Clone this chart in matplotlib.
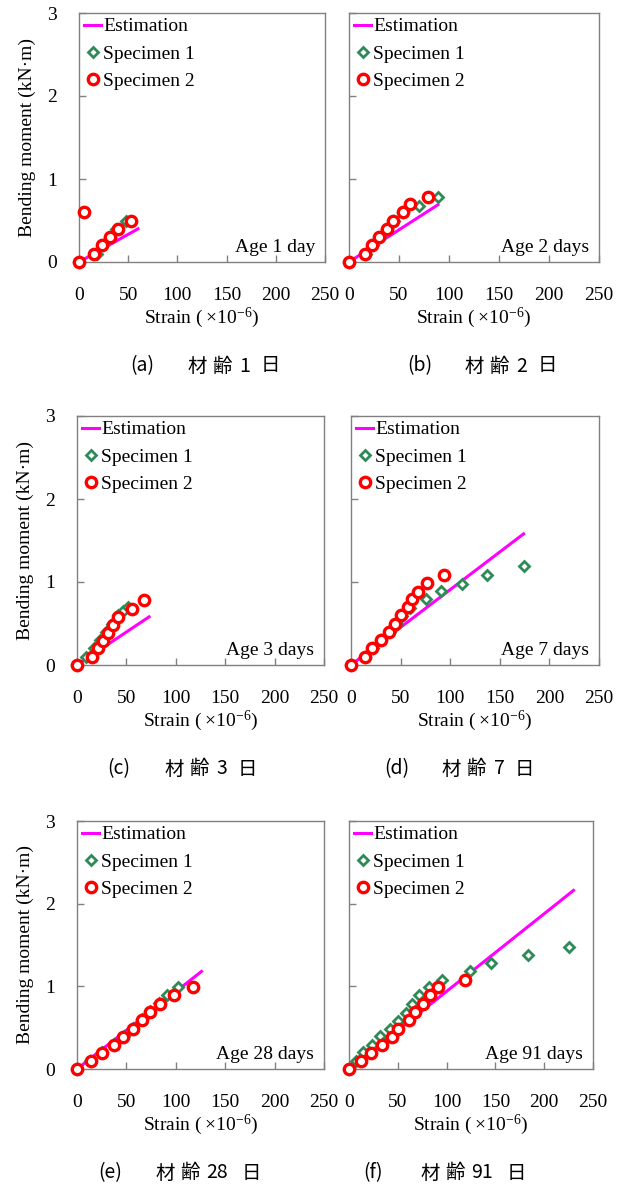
import matplotlib
matplotlib.use("Agg")
import matplotlib.pyplot as plt

plt.rcParams['font.family'] = ['Liberation Serif', 'DejaVu Sans']
plt.rcParams['mathtext.fontset'] = 'custom'
plt.rcParams['mathtext.rm'] = 'Liberation Serif'
plt.rcParams['mathtext.it'] = 'Liberation Serif:italic'

# data (strain x1e-6, bending moment kN*m)
est_a_x = [0, 60]
est_a_y = [0, 0.40]
s1_a_x = [0, 18, 24, 31, 38, 48]
s1_a_y = [0, 0.1, 0.2, 0.3, 0.4, 0.5]
s2_a_x = [0, 5, 15, 23, 32, 40, 53]
s2_a_y = [0, 0.6, 0.1, 0.2, 0.3, 0.4, 0.5]

est_b_x = [0, 89]
est_b_y = [0, 0.69]
s1_b_x = [0, 17, 24, 31, 38, 45, 54, 70, 89]
s1_b_y = [0, 0.1, 0.2, 0.3, 0.4, 0.5, 0.6, 0.68, 0.78]
s2_b_x = [0, 16, 23, 30, 38, 44, 54, 61, 79]
s2_b_y = [0, 0.1, 0.2, 0.3, 0.4, 0.5, 0.6, 0.7, 0.78]

est_c_x = [0, 73]
est_c_y = [0, 0.58]
s1_c_x = [0, 9, 17, 23, 29, 35, 41, 47, 52]
s1_c_y = [0, 0.1, 0.2, 0.3, 0.4, 0.5, 0.6, 0.65, 0.7]
s2_c_x = [0, 15, 21, 26, 31, 36, 41, 56, 68]
s2_c_y = [0, 0.1, 0.2, 0.29, 0.39, 0.48, 0.58, 0.68, 0.78]

est_d_x = [0, 174]
est_d_y = [0, 1.58]
s1_d_x = [0, 14, 22, 30, 39, 46, 51, 59, 76, 91, 112, 137, 174]
s1_d_y = [0, 0.1, 0.2, 0.3, 0.4, 0.49, 0.59, 0.69, 0.79, 0.89, 0.98, 1.08, 1.19]
s2_d_x = [0, 14, 21, 30, 38, 44, 50, 57, 61, 68, 77, 94]
s2_d_y = [0, 0.1, 0.2, 0.3, 0.4, 0.5, 0.6, 0.7, 0.79, 0.88, 0.99, 1.08]

est_e_x = [0, 126]
est_e_y = [0, 1.18]
s1_e_x = [0, 13, 25, 37, 48, 57, 66, 74, 83, 91, 102]
s1_e_y = [0, 0.1, 0.2, 0.3, 0.4, 0.5, 0.6, 0.7, 0.8, 0.9, 0.99]
s2_e_x = [0, 14, 25, 37, 47, 57, 66, 74, 84, 98, 117]
s2_e_y = [0, 0.1, 0.19, 0.29, 0.39, 0.48, 0.59, 0.69, 0.79, 0.89, 0.99]

est_f_x = [0, 230]
est_f_y = [0, 2.16]
s1_f_x = [0, 7, 14, 24, 32, 42, 50, 58, 65, 72, 82, 95, 124, 146, 183, 225]
s1_f_y = [0, 0.1, 0.2, 0.29, 0.4, 0.48, 0.58, 0.68, 0.79, 0.89, 0.99, 1.08, 1.18, 1.28, 1.38, 1.48]
s2_f_x = [0, 12, 23, 34, 44, 50, 61, 68, 76, 83, 91, 119]
s2_f_y = [0, 0.1, 0.19, 0.29, 0.39, 0.48, 0.59, 0.69, 0.79, 0.89, 0.99, 1.08]

ages = ['Age 1 day', 'Age 2 days', 'Age 3 days', 'Age 7 days', 'Age 28 days', 'Age 91 days']
cap_letters = ['(a)', '(b)', '(c)', '(d)', '(e)', '(f)']
cap_days = ['1', '2', '3', '7', '28', '91']

panels = [
    (est_a_x, est_a_y, s1_a_x, s1_a_y, s2_a_x, s2_a_y),
    (est_b_x, est_b_y, s1_b_x, s1_b_y, s2_b_x, s2_b_y),
    (est_c_x, est_c_y, s1_c_x, s1_c_y, s2_c_x, s2_c_y),
    (est_d_x, est_d_y, s1_d_x, s1_d_y, s2_d_x, s2_d_y),
    (est_e_x, est_e_y, s1_e_x, s1_e_y, s2_e_x, s2_e_y),
    (est_f_x, est_f_y, s1_f_x, s1_f_y, s2_f_x, s2_f_y),
]

W, H = 624, 1185
# axes boxes in pixels: left, top, right, bottom
boxes = [(79, 13, 325, 262), (349, 13, 599, 262),
         (77, 416, 324, 665), (351, 416, 599, 665),
         (77, 821, 324, 1069), (349, 821, 593, 1069)]
caption_x = [130, 407, 107, 384, 98, 363]

fig = plt.figure(figsize=(W / 100, H / 100), dpi=100)
frame_col = '#808080'
cjk = ['Noto Sans CJK JP', 'DejaVu Sans']


def cap_text(px, py, s, ha='left'):
    fig.text(px / W, 1 - py / H, s, family=cjk, fontsize=14, ha=ha, va='center')


for i, (box, data) in enumerate(zip(boxes, panels)):
    l, t, r, b = box
    ax = fig.add_axes([l / W, 1 - b / H, (r - l) / W, (b - t) / H])
    ex, ey, x1, y1, x2, y2 = data
    ax.plot(ex, ey, color='#FF00FF', lw=2.2, label='Estimation', zorder=2)
    ax.plot(x1, y1, ls='none', marker='D', ms=5.5, mfc='white', mec='#2E8B57',
            mew=2.0, label='Specimen 1', zorder=3, clip_on=False)
    ax.plot(x2, y2, ls='none', marker='o', ms=7.5, mfc='white', mec='#FF0000',
            mew=2.4, label='Specimen 2', zorder=4, clip_on=False)

    ax.set_xlim(0, 250)
    ax.set_ylim(0, 3)
    ax.set_xticks([0, 50, 100, 150, 200, 250])
    ax.set_yticks([0, 1, 2, 3])
    ax.tick_params(direction='in', length=5, width=1, color=frame_col,
                   labelsize=14, pad=18)
    for sp in ax.spines.values():
        sp.set_color(frame_col)
        sp.set_linewidth(1)

    if i % 2 == 0:
        ax.set_ylabel('Bending moment (kN\u00b7m)', fontsize=14, labelpad=8)
        ax.tick_params(axis='y', pad=16)
    else:
        ax.set_yticklabels([])
    ax.set_xlabel('Strain (\u2009\u00d710$^{-6}$)', fontsize=14, labelpad=1)

    ax.legend(loc='upper left', bbox_to_anchor=(0.0, 1.0), frameon=False,
              fontsize=14, handlelength=0.9, handletextpad=0.1,
              borderaxespad=0.0, borderpad=0.25, labelspacing=0.5,
              numpoints=1)
    ax.text(0.96, 0.06, ages[i], transform=ax.transAxes, ha='right',
            va='center', fontsize=14)

    # caption pieces placed like the spaced-out original
    x0 = caption_x[i]
    yc = b + 104
    wide = len(cap_days[i]) > 1
    cap_text(x0, yc, cap_letters[i])
    cap_text(x0 + 58, yc, '材')
    cap_text(x0 + 82, yc, '齢')
    cap_text(x0 + (119 if wide else 115), yc, cap_days[i], ha='center')
    cap_text(x0 + (144 if wide else 131), yc, '日')

fig.savefig('out.png', dpi=100)
